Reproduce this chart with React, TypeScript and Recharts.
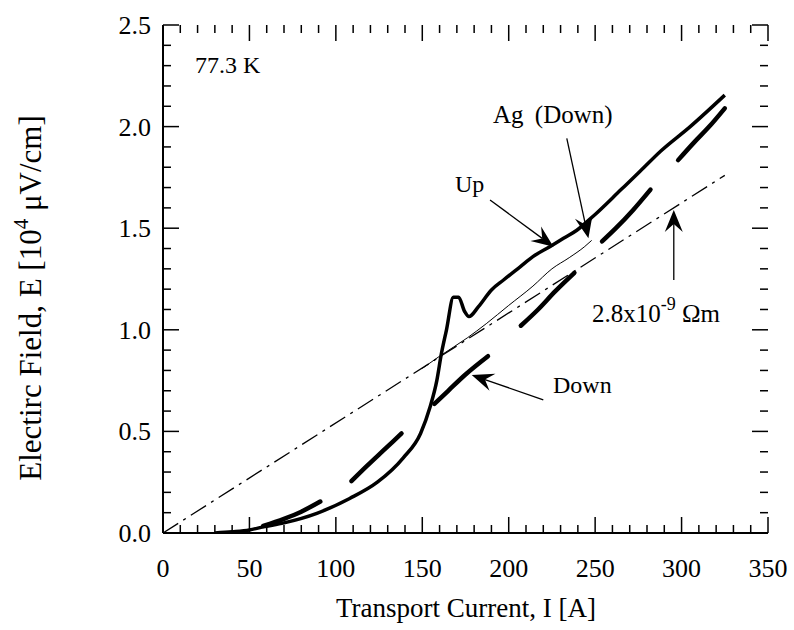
import React from 'react';
import { LineChart, Line, XAxis, YAxis, ReferenceLine } from 'recharts';

// ---------- data ----------
const X_TICKS = [0, 10, 20, 30, 40, 50, 60, 70, 80, 90, 100, 110, 120, 130, 140, 150, 160, 170, 180, 190, 200, 210, 220, 230, 240, 250, 260, 270, 280, 290, 300, 310, 320, 330, 340, 350];
const X_LABELS = [0, 50, 100, 150, 200, 250, 300, 350];
const Y_TICKS = [0, 0.1, 0.2, 0.3, 0.4, 0.5, 0.6, 0.7, 0.8, 0.9, 1.0, 1.1, 1.2, 1.3, 1.4, 1.5, 1.6, 1.7, 1.8, 1.9, 2.0, 2.1, 2.2, 2.3, 2.4, 2.5];
const Y_MAJOR = [0, 0.5, 1.0, 1.5, 2.0, 2.5];
const Y_LABELS = ['0.0', '0.5', '1.0', '1.5', '2.0', '2.5'];

// "Up" sweep (thick solid)
const upCurrent = [30, 40, 50, 58, 70, 89, 108, 124, 139, 149, 154.5, 158.4, 161, 164, 168, 171, 174.5, 177, 182.5, 190, 197, 206.6, 214, 224, 231.7, 239.4, 249, 265, 276, 288, 305, 325];
const upField = [0.0, 0.006, 0.015, 0.03, 0.05, 0.097, 0.17, 0.25, 0.37, 0.49, 0.62, 0.75, 0.88, 1.0, 1.16, 1.16, 1.09, 1.065, 1.114, 1.196, 1.245, 1.31, 1.36, 1.41, 1.45, 1.49, 1.56, 1.69, 1.78, 1.88, 2.0, 2.155];

// "Down" sweep (thick long dashes)
const downSegments: number[][][] = [
  [[58, 70, 80, 91], [0.035, 0.07, 0.105, 0.155]],
  [[109, 118, 128, 138], [0.255, 0.33, 0.41, 0.49]],
  [[157, 165, 175, 188], [0.635, 0.7, 0.78, 0.87]],
  [[207, 217, 227, 238], [1.02, 1.1, 1.19, 1.28]],
  [[254, 262, 272, 282], [1.435, 1.5, 1.59, 1.69]],
  [[298, 307, 316, 325], [1.835, 1.92, 2.0, 2.09]],
];

// Ag (Down) thin line
const agCurrent = [150, 160, 176, 187, 200, 214, 225, 235, 244, 248];
const agField = [0.81, 0.87, 0.96, 1.03, 1.12, 1.215, 1.3, 1.355, 1.41, 1.44];

// 2.8x10^-9 Ohm m resistivity line (dash-dot)
const rhoCurrent = [0, 325];
const rhoField = [0, 1.76];

// annotation arrows [fromI, fromE, toI, toE]
const arrowUp = [189.2, 1.639, 225.9, 1.409];
const arrowAg = [233.6, 1.942, 246.1, 1.45];
const arrowDown = [220, 0.655, 178.6, 0.778];
const arrowRho = [295.5, 1.245, 295.5, 1.59];

const toPts = (xs: number[], ys: number[]) => xs.map((x, i) => ({ I: x, E: ys[i] }));

const upData = toPts(upCurrent, upField);
const agData = toPts(agCurrent, agField);
const rhoData = toPts(rhoCurrent, rhoField);
const downData = downSegments.map(([xs, ys]) => toPts(xs, ys));

const FONT = '"Liberation Serif", "Times New Roman", serif';
const AXIS_LINE = { stroke: '#000', strokeWidth: 2 };

const isMajorX = (v: number) => X_LABELS.includes(v);
const isMajorY = (v: number) => Y_MAJOR.some((m) => Math.abs(m - v) < 1e-6);

const XLabelTick = (props: any) => {
  const { x, y, payload } = props;
  return (
    <text x={x} y={y + 44} textAnchor="middle" fontSize={26} fontFamily={FONT} fill="#000">
      {payload.value}
    </text>
  );
};

const YLabelTick = (props: any) => {
  const { x, y, payload } = props;
  const idx = Math.round(payload.value * 2);
  return (
    <text x={x - 12} y={y + 9} textAnchor="end" fontSize={26} fontFamily={FONT} fill="#000">
      {Y_LABELS[idx]}
    </text>
  );
};

const okNum = (vals: any[]) => vals.every((v) => typeof v === 'number' && !isNaN(v));

// vertical reference line -> inward tick marks at bottom and top edges
const makeXTick = (len: number) => (p: any) => {
  const { x1, y1, x2, y2 } = p;
  if (!okNum([x1, y1, x2, y2])) return <g />;
  const top = Math.min(y1, y2), bot = Math.max(y1, y2);
  return (
    <g>
      <line x1={x1} y1={bot} x2={x1} y2={bot - len} stroke="#000" strokeWidth={1.5} />
      <line x1={x1} y1={top} x2={x1} y2={top + len} stroke="#000" strokeWidth={1.5} />
    </g>
  );
};

// horizontal reference line -> inward tick marks at left and right edges
const makeYTick = (len: number) => (p: any) => {
  const { x1, y1, x2, y2 } = p;
  if (!okNum([x1, y1, x2, y2])) return <g />;
  const l = Math.min(x1, x2), r = Math.max(x1, x2);
  return (
    <g>
      <line x1={l} y1={y1} x2={l + len} y2={y1} stroke="#000" strokeWidth={1.5} />
      <line x1={r} y1={y1} x2={r - len} y2={y1} stroke="#000" strokeWidth={1.5} />
    </g>
  );
};

const ArrowShape = (props: any) => {
  const x1 = props.x1, y1 = props.y1, x2 = props.x2, y2 = props.y2;
  if (!okNum([x1, y1, x2, y2])) return <g />;
  const dx = x2 - x1, dy = y2 - y1;
  const len = Math.sqrt(dx * dx + dy * dy) || 1;
  const ux = dx / len, uy = dy / len;
  const px = -uy, py = ux;
  const L = 22, W = 9, N = 14;
  const bx = x2 - ux * L, by = y2 - uy * L;
  const nx = x2 - ux * N, ny = y2 - uy * N;
  const pts = [
    [x2, y2],
    [bx + px * W, by + py * W],
    [nx, ny],
    [bx - px * W, by - py * W],
  ].map((q) => q.join(',')).join(' ');
  return (
    <g>
      <line x1={x1} y1={y1} x2={nx} y2={ny} stroke="#000" strokeWidth={1.3} />
      <polygon points={pts} fill="#000" />
    </g>
  );
};

const seg = (a: number[]) => [{ x: a[0], y: a[1] }, { x: a[2], y: a[3] }];

export default function App() {
  return (
    <div style={{ position: 'absolute', left: 0, top: 0, width: 794, height: 630, background: '#fff' }}>
      <LineChart width={794} height={630} margin={{ top: 25, right: 26, left: 0, bottom: 0 }}>
        <XAxis
          dataKey="I"
          type="number"
          domain={[0, 350]}
          ticks={X_LABELS}
          interval={0}
          allowDataOverflow
          height={97}
          tickSize={0}
          tickMargin={0}
          tickLine={false}
          axisLine={AXIS_LINE}
          tick={<XLabelTick />}
        />
        <XAxis
          xAxisId="top"
          orientation="top"
          type="number"
          domain={[0, 350]}
          allowDataOverflow
          height={0}
          tick={false}
          tickLine={false}
          axisLine={AXIS_LINE}
        />
        <YAxis
          dataKey="E"
          type="number"
          domain={[0, 2.5]}
          ticks={Y_MAJOR}
          interval={0}
          allowDataOverflow
          width={163}
          tickSize={0}
          tickMargin={0}
          tickLine={false}
          axisLine={AXIS_LINE}
          tick={<YLabelTick />}
        />
        <YAxis
          yAxisId="right"
          orientation="right"
          type="number"
          domain={[0, 2.5]}
          allowDataOverflow
          width={0}
          tick={false}
          tickLine={false}
          axisLine={AXIS_LINE}
        />

        {X_TICKS.map((v) => (
          <ReferenceLine key={'xt' + v} x={v} ifOverflow="visible" shape={makeXTick(isMajorX(v) ? 16 : 8)} />
        ))}
        {Y_TICKS.map((v) => (
          <ReferenceLine key={'yt' + v} y={v} ifOverflow="visible" shape={makeYTick(isMajorY(v) ? 16 : 8)} />
        ))}

        <Line data={rhoData} dataKey="E" type="linear" stroke="#000" strokeWidth={1.3} strokeDasharray="18 6 3 6" dot={false} activeDot={false} isAnimationActive={false} />
        <Line data={agData} dataKey="E" type="monotone" stroke="#000" strokeWidth={1} dot={false} activeDot={false} isAnimationActive={false} />
        <Line data={upData} dataKey="E" type="monotone" stroke="#000" strokeWidth={3.5} dot={false} activeDot={false} isAnimationActive={false} />
        {downData.map((d, i) => (
          <Line key={i} data={d} dataKey="E" type="monotone" stroke="#000" strokeWidth={4.5} strokeLinecap="round" dot={false} activeDot={false} isAnimationActive={false} />
        ))}

        <ReferenceLine segment={seg(arrowUp)} shape={ArrowShape} ifOverflow="visible" />
        <ReferenceLine segment={seg(arrowAg)} shape={ArrowShape} ifOverflow="visible" />
        <ReferenceLine segment={seg(arrowDown)} shape={ArrowShape} ifOverflow="visible" />
        <ReferenceLine segment={seg(arrowRho)} shape={ArrowShape} ifOverflow="visible" />
      </LineChart>

      <svg width={794} height={630} style={{ position: 'absolute', left: 0, top: 0, pointerEvents: 'none' }}>
        <g fontFamily={FONT} fill="#000">
          <text x={195} y={73} fontSize={24}>77.3 K</text>
          <text x={455} y={192} fontSize={24}>Up</text>
          <text x={493} y={123} fontSize={25} wordSpacing={5}>Ag (Down)</text>
          <text x={553} y={393} fontSize={24}>Down</text>
          <text x={592} y={322} fontSize={25}>
            2.8x10<tspan dy={-12} fontSize={18}>-9</tspan><tspan dy={12}> Ωm</tspan>
          </text>
          <text x={466} y={617} fontSize={27} textAnchor="middle">Transport Current, I [A]</text>
          <text transform="translate(41,298) rotate(-90)" fontSize={31} textAnchor="middle">
            Electirc Field, E [10<tspan dy={-13} fontSize={21}>4</tspan><tspan dy={13}> μV/cm]</tspan>
          </text>
        </g>
      </svg>
    </div>
  );
}
